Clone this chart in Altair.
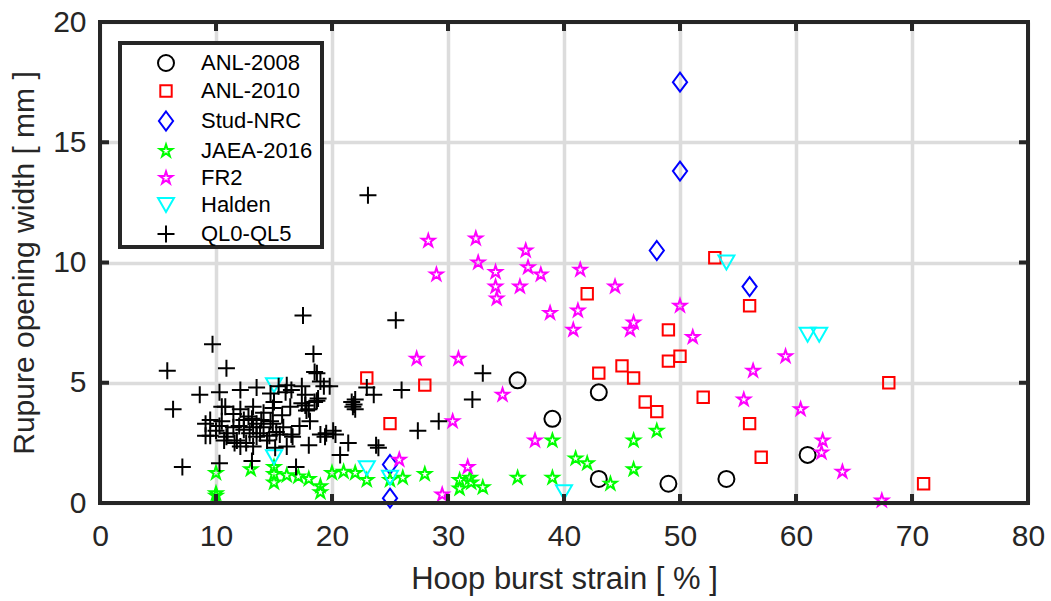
import altair as alt
import pandas as pd

# Series names, colours and marker outlines (paths on a common [-1, 1] grid)
series = ["ANL-2008", "ANL-2010", "Stud-NRC", "JAEA-2016", "FR2", "Halden", "QL0-QL5"]
colors = ["#000000", "#ff0000", "#0000ff", "#00ff00", "#ff00ff", "#00ffff", "#000000"]


def star_path(r):
    pts = [(0, -1), (0.2245, -0.309), (0.951, -0.309), (0.363, 0.118), (0.588, 0.809),
           (0, 0.382), (-0.588, 0.809), (-0.363, 0.118), (-0.951, -0.309), (-0.2245, -0.309)]
    return "M" + "L".join(f"{px * r:.3f},{py * r:.3f}" for px, py in pts) + "Z"


CIRCLE = "M0.8,0A0.8,0.8,0,1,1,-0.8,0A0.8,0.8,0,1,1,0.8,0Z"
SQUARE = "M-0.57,-0.57H0.57V0.57H-0.57Z"
DIAMOND = "M0,-0.95L0.71,0L0,0.95L-0.71,0Z"
STAR = star_path(0.66)
TRI_DOWN = "M-0.8,-0.7L0.8,-0.7L0,0.7Z"
PLUS = "M-0.85,0H0.85M0,-0.85V0.85"
shapes = [CIRCLE, SQUARE, DIAMOND, STAR, STAR, TRI_DOWN, PLUS]
MARKER_SIZE = 400

# Hoop burst strain [%] and rupture opening width [mm] per data set
anl2008_strain = [36.0, 39.0, 43.0, 43.0, 49.0, 54.0, 61.0]
anl2008_width = [5.1, 3.5, 4.6, 1.0, 0.8, 1.0, 2.0]

anl2010_strain = [23.0, 25.0, 28.0, 42.0, 43.0, 45.0, 46.0, 47.0, 48.0, 49.0,
                  49.0, 50.0, 52.0, 53.0, 56.0, 56.0, 57.0, 68.0, 71.0]
anl2010_width = [5.2, 3.3, 4.9, 8.7, 5.4, 5.7, 5.2, 4.2, 3.8, 7.2,
                 5.9, 6.1, 4.4, 10.2, 8.2, 3.3, 1.9, 5.0, 0.8]

stud_strain = [50.0, 50.0, 48.0, 56.0, 25.0, 25.0]
stud_width = [17.5, 13.8, 10.5, 9.0, 1.6, 0.2]

jaea_strain = [10.0, 10.0, 10.0, 13.0, 15.0, 15.0, 15.0, 16.1, 17.1, 18.0,
               19.0, 19.0, 20.0, 21.0, 22.0, 23.0, 25.0, 26.1, 28.0, 31.0,
               31.0, 31.9, 32.0, 33.0, 36.0, 39.0, 39.0, 41.0, 42.0, 44.0,
               46.0, 46.0, 48.0]
jaea_width = [1.25, 0.4, 0.3, 1.4, 1.5, 1.2, 0.85, 1.15, 1.1, 1.0,
              0.7, 0.45, 1.25, 1.3, 1.25, 0.95, 0.95, 1.05, 1.2, 0.95,
              0.6, 1.05, 0.85, 0.65, 1.05, 2.6, 1.05, 1.85, 1.65, 0.8,
              2.6, 1.4, 3.0]

fr2_strain = [28.3, 29.0, 32.4, 32.6, 34.1, 34.1, 34.2, 36.2, 36.7, 36.9,
              38.0, 38.8, 40.8, 41.2, 41.4, 44.4, 45.7, 46.0, 50.0, 51.1,
              27.3, 30.9, 34.7, 30.4, 37.5, 25.8, 31.7, 29.5, 59.1, 56.3,
              55.5, 60.4, 62.3, 62.2, 64.0, 67.4]
fr2_width = [10.9, 9.5, 11.0, 10.0, 9.6, 9.0, 8.5, 9.0, 10.5, 9.8,
             9.5, 7.9, 7.2, 8.0, 9.7, 9.0, 7.2, 7.5, 8.2, 6.9,
             6.0, 6.0, 4.5, 3.4, 2.6, 1.8, 1.5, 0.35, 6.1, 5.5,
             4.3, 3.9, 2.6, 2.1, 1.3, 0.1]

halden_strain = [15.0, 15.0, 23.0, 25.0, 40.0, 54.0, 61.0, 62.0]
halden_width = [4.9, 1.9, 1.45, 1.05, 0.45, 10.0, 7.0, 7.0]

ql_strain = [23.1, 17.5, 25.5, 9.7, 18.4, 5.8, 10.9, 6.3, 7.1, 33.0,
             32.1, 29.2, 27.4, 26.0, 8.6, 9.1, 9.1, 10.3, 13.1, 16.9,
             20.7, 24.0, 23.8, 21.4, 23.0, 23.6, 22.0, 21.7, 21.8, 22.0,
             21.9,
             10.3, 12.1, 13.5, 14.7, 15.4, 16.1, 16.5, 17.4, 17.7, 18.7,
             19.0, 19.3, 19.8, 18.5, 16.0, 18.8, 18.7,
             10.5, 10.8, 12.1, 13.2, 14.1, 14.9, 15.7, 16.4, 17.4, 18.0,
             18.5, 17.7, 17.8, 11.5, 12.8, 15.0,
             9.5, 10.5, 12.4, 13.1, 13.5, 13.9, 14.7, 9.5, 10.3, 10.9,
             11.5, 11.8, 12.4, 12.6, 13.2, 13.5, 14.1, 14.4, 14.9, 15.2,
             15.8, 12.1, 13.2, 11.0, 11.6, 12.0, 12.9, 13.8, 14.6, 10.0,
             10.7, 16.5, 15.5, 16.1, 18.0, 18.1, 17.2, 19.0, 19.5, 20.3,
             19.4, 20.1, 15.1, 16.6]
ql_width = [12.8, 7.8, 7.6, 6.6, 6.2, 5.5, 5.6, 3.9, 1.5, 5.4,
            4.3, 3.4, 3.0, 4.7, 4.5, 3.3, 2.8, 1.65, 1.75, 1.5,
            2.0, 2.3, 2.4, 2.5, 4.8, 4.5, 4.3, 4.2, 4.0, 3.9,
            4.1,
            4.6, 4.7, 4.8, 4.55, 4.85, 4.9, 4.7, 4.85, 4.5, 5.4,
            5.05, 4.85, 4.85, 5.45, 4.6, 4.35, 4.25,
            4.0, 4.0, 3.9, 4.0, 3.75, 3.95, 3.65, 4.0, 4.15, 3.9,
            4.2, 4.05, 3.85, 3.7, 3.6, 4.2,
            3.45, 3.4, 3.45, 3.5, 3.3, 3.45, 3.4, 2.8, 3.2, 2.75,
            3.15, 2.6, 3.05, 2.5, 3.15, 2.75, 3.15, 2.6, 3.3, 2.95,
            3.15, 2.35, 2.35, 2.9, 2.5, 3.2, 2.9, 2.9, 2.8, 3.0,
            2.6, 2.85, 2.85, 2.35, 2.4, 3.4, 3.2, 2.85, 2.9, 2.85,
            2.75, 3.0, 2.3, 2.75]

x_ticks = [0, 10, 20, 30, 40, 50, 60, 70, 80]
y_ticks = [0, 5, 10, 15, 20]

groups = [
    ("ANL-2008", anl2008_strain, anl2008_width),
    ("ANL-2010", anl2010_strain, anl2010_width),
    ("Stud-NRC", stud_strain, stud_width),
    ("JAEA-2016", jaea_strain, jaea_width),
    ("FR2", fr2_strain, fr2_width),
    ("Halden", halden_strain, halden_width),
    ("QL0-QL5", ql_strain, ql_width),
]
rows = []
for order, (name, xs, ys) in enumerate(groups):
    for xv, yv in zip(xs, ys):
        rows.append({"set": name, "strain": xv, "width": yv, "order": order})
df = pd.DataFrame(rows)

W, H = 928, 481
FONT = "Liberation Sans"
DARK = "#262626"
GRID = "#dcdcdc"
X_TITLE = "Hoop burst strain [ % ]"
Y_TITLE = "Rupure opening width [ mm ]"

xscale = alt.Scale(domain=[0, 80], nice=False, zero=False)
yscale = alt.Scale(domain=[0, 20], nice=False, zero=False)

x_axis = alt.Axis(values=x_ticks, grid=True, gridColor=GRID, gridWidth=3.5,
                  domain=False, ticks=False, labelFlush=False, labelFont=FONT,
                  labelFontSize=30, labelColor=DARK, labelPadding=18, titleFont=FONT,
                  titleFontSize=31, titleFontWeight="normal", titleColor=DARK,
                  titlePadding=13)
y_axis = alt.Axis(values=y_ticks, grid=True, gridColor=GRID, gridWidth=3.5,
                  domain=False, ticks=False, labelFlush=False, labelFont=FONT,
                  labelFontSize=30, labelColor=DARK, labelPadding=14, titleFont=FONT,
                  titleFontSize=30, titleFontWeight="normal", titleColor=DARK,
                  titlePadding=13)

legend = alt.Legend(
    title=None, orient="none", legendX=55, legendY=30, padding=0,
    labelFont=FONT, labelFontSize=22, labelColor="#000000", labelOffset=24,
    rowPadding=5, symbolStrokeWidth=2, symbolFillColor="transparent",
    symbolSize=MARKER_SIZE,
)

points = alt.Chart(df).mark_point(
    filled=False, strokeWidth=2, opacity=1, size=MARKER_SIZE
).encode(
    x=alt.X("strain:Q", scale=xscale, title=X_TITLE, axis=x_axis),
    y=alt.Y("width:Q", scale=yscale, title=Y_TITLE, axis=y_axis),
    color=alt.Color("set:N", scale=alt.Scale(domain=series, range=colors), legend=legend),
    shape=alt.Shape("set:N", scale=alt.Scale(domain=series, range=shapes), legend=legend),
    order=alt.Order("order:Q"),
)

one = alt.Data(values=[{}])

legend_box = alt.Chart(one).mark_rect(fill="white", stroke=DARK, strokeWidth=4).encode(
    x=alt.value(20), x2=alt.value(222), y=alt.value(21), y2=alt.value(225)
)

frame = alt.Chart(one).mark_rect(fill=None, stroke=DARK, strokeWidth=4).encode(
    x=alt.value(0), x2=alt.value(W), y=alt.value(0), y2=alt.value(H)
)

# Inward tick marks on all four sides of the box
xt = alt.Data(values=[{"t": v} for v in x_ticks])
yt = alt.Data(values=[{"t": v} for v in y_ticks])
tick_len = 9
xenc = alt.X("t:Q", scale=xscale, title=X_TITLE, axis=x_axis)
yenc = alt.Y("t:Q", scale=yscale, title=Y_TITLE, axis=y_axis)
ticks_bottom = alt.Chart(xt).mark_rule(color=DARK, strokeWidth=4).encode(
    x=xenc, y=alt.value(H), y2=alt.value(H - tick_len))
ticks_top = alt.Chart(xt).mark_rule(color=DARK, strokeWidth=4).encode(
    x=xenc, y=alt.value(0), y2=alt.value(tick_len))
ticks_left = alt.Chart(yt).mark_rule(color=DARK, strokeWidth=4).encode(
    y=yenc, x=alt.value(0), x2=alt.value(tick_len))
ticks_right = alt.Chart(yt).mark_rule(color=DARK, strokeWidth=4).encode(
    y=yenc, x=alt.value(W), x2=alt.value(W - tick_len))

chart = alt.layer(
    points, legend_box, frame, ticks_bottom, ticks_top, ticks_left, ticks_right
).properties(
    width=W, height=H,
    autosize=alt.AutoSizeParams(type="none"),
    padding={"left": 100, "top": 22, "right": 23, "bottom": 98},
    background="white",
).configure_view(stroke=None)

chart.save("out.html", embed_options={"renderer": "svg", "actions": False})
